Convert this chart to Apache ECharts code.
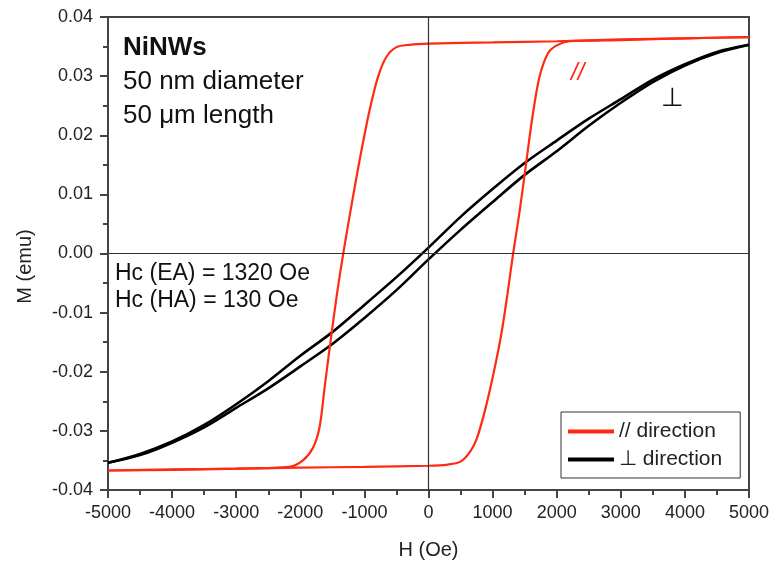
<!DOCTYPE html>
<html>
<head>
<meta charset="utf-8">
<script src="https://cdn.jsdelivr.net/npm/echarts@6/dist/echarts.min.js"></script>
<style>
  html, body { margin: 0; padding: 0; background: #fff; }
  #main { width: 776px; height: 572px; }
</style>
</head>
<body>
<div id="main"></div>
<script>
// tick values
var xTicks = [-5000, -4000, -3000, -2000, -1000, 0, 1000, 2000, 3000, 4000, 5000];
var yTicks = [-0.04, -0.03, -0.02, -0.01, 0.00, 0.01, 0.02, 0.03, 0.04];

// // direction (easy axis), field going down then up
var parDownH = [5000, 4000, 3000, 2000, 1000, 0, -300, -500, -660, -790, -920, -1050, -1180, -1330, -1430, -1530, -1620, -1700, -1800, -1960, -2170, -3000, -4000, -5000];
var parDownM = [0.0366, 0.0364, 0.0362, 0.0359, 0.0357, 0.0355, 0.0353, 0.0349, 0.0332, 0.0298, 0.0242, 0.0172, 0.0095, 0.0000, -0.0070, -0.0150, -0.0226, -0.0294, -0.0328, -0.0350, -0.0361, -0.0364, -0.0366, -0.0367];
var parUpH = [-5000, -4000, -3000, -2000, -1000, 0, 300, 500, 650, 750, 870, 1000, 1130, 1230, 1320, 1420, 1520, 1620, 1730, 1860, 2000, 2200, 3000, 4000, 5000];
var parUpM = [-0.0367, -0.0365, -0.0364, -0.0362, -0.0361, -0.0359, -0.0357, -0.0352, -0.0335, -0.0314, -0.0270, -0.0210, -0.0140, -0.0070, 0.0000, 0.0070, 0.0150, 0.0230, 0.0298, 0.0338, 0.0352, 0.0359, 0.0361, 0.0364, 0.0366];

// ⊥ direction (hard axis)
var perpDownH = [5000, 4500, 4000, 3500, 3000, 2500, 2000, 1500, 1000, 500, 0, -500, -1000, -1500, -2000, -2500, -3000, -3500, -4000, -4500, -5000];
var perpDownM = [0.0353, 0.0341, 0.0320, 0.0294, 0.0261, 0.0228, 0.0191, 0.0153, 0.0109, 0.0062, 0.0010, -0.0040, -0.0087, -0.0133, -0.0173, -0.0216, -0.0255, -0.0290, -0.0318, -0.0339, -0.0354];
var perpUpH = [-5000, -4500, -4000, -3500, -3000, -2500, -2000, -1500, -1000, -500, 0, 500, 1000, 1500, 2000, 2500, 3000, 3500, 4000, 4500, 5000];
var perpUpM = [-0.0354, -0.0341, -0.0320, -0.0294, -0.0261, -0.0228, -0.0191, -0.0153, -0.0109, -0.0062, -0.0010, 0.0040, 0.0087, 0.0133, 0.0173, 0.0216, 0.0255, 0.0290, 0.0318, 0.0339, 0.0353];

function pairs(h, m) {
    return h.map(function (v, i) { return [v, m[i]]; });
}

var RED = '#ff2a12';
var FONT = '"Liberation Sans", Arial, sans-serif';

var chart = echarts.init(document.getElementById('main'));

function branch(name, color, width, h, m, extra) {
    var s = {
        name: name,
        type: 'line',
        data: pairs(h, m),
        symbol: 'none',
        showSymbol: false,
        smooth: 0.3,
        lineStyle: { color: color, width: width },
        itemStyle: { color: color },
        z: color === RED ? 4 : 3,
        silent: true,
        animation: false
    };
    if (extra) Object.assign(s, extra);
    return s;
}

var option = {
    animation: false,
    backgroundColor: '#fff',
    textStyle: { fontFamily: FONT },
    grid: {
        left: 108, right: 27, top: 17, bottom: 82,
        show: true, borderColor: '#444', borderWidth: 2
    },
    legend: {
        data: [
            { name: '// direction', icon: 'rect' },
            { name: '⊥ direction', icon: 'rect' }
        ],
        orient: 'vertical',
        left: 561, top: 412,
        backgroundColor: '#fff',
        borderColor: '#333', borderWidth: 1, borderRadius: 0,
        padding: [9, 18, 8, 7],
        itemWidth: 46, itemHeight: 4, itemGap: 7,
        textStyle: { fontSize: 21, color: '#222', fontFamily: FONT, lineHeight: 21 }
    },
    xAxis: {
        type: 'value',
        min: xTicks[0], max: xTicks[xTicks.length - 1], interval: 1000,
        name: 'H (Oe)', nameLocation: 'middle', nameGap: 50,
        nameTextStyle: { fontSize: 20, color: '#222' },
        axisLine: { show: true, onZero: false, lineStyle: { color: '#444', width: 2 } },
        axisTick: { show: true, inside: false, length: 8, lineStyle: { color: '#444', width: 2 } },
        minorTick: { show: true, splitNumber: 2, length: 5, lineStyle: { color: '#444', width: 2 } },
        axisLabel: {
            fontSize: 18, color: '#222', margin: 14,
            formatter: function (v) { return String(v); }
        },
        splitLine: { show: false }
    },
    yAxis: {
        type: 'value',
        min: yTicks[0], max: yTicks[yTicks.length - 1], interval: 0.01,
        name: 'M (emu)', nameLocation: 'middle', nameGap: 73,
        nameTextStyle: { fontSize: 20, color: '#222', padding: [0, 0, 0, -26] },
        axisLine: { show: true, onZero: false, lineStyle: { color: '#444', width: 2 } },
        axisTick: { show: true, inside: false, length: 8, lineStyle: { color: '#444', width: 2 } },
        minorTick: { show: true, splitNumber: 2, length: 5, lineStyle: { color: '#444', width: 2 } },
        axisLabel: {
            fontSize: 18, color: '#222', margin: 15,
            formatter: function (v) { return v.toFixed(2); }
        },
        splitLine: { show: false }
    },
    graphic: [
        { type: 'text', left: 123, top: 35, style: { text: 'NiNWs', font: 'bold 26px ' + FONT, fill: '#111' } },
        { type: 'text', left: 123, top: 69, style: { text: '50 nm diameter', font: '26px ' + FONT, fill: '#111' } },
        { type: 'text', left: 123, top: 103, style: { text: '50 μm length', font: '26px ' + FONT, fill: '#111' } },
        { type: 'text', left: 115, top: 262, style: { text: 'Hc (EA) = 1320 Oe', font: '23px ' + FONT, fill: '#111' } },
        { type: 'text', left: 115, top: 289, style: { text: 'Hc (HA) = 130 Oe', font: '23px ' + FONT, fill: '#111' } },
        { type: 'text', left: 571, top: 61, style: { text: '//', font: 'italic 24px ' + FONT, fill: RED } },
        { type: 'text', left: 661, top: 86, style: { text: '⊥', font: '26px ' + FONT, fill: '#111' } }
    ],
    series: [
        branch('⊥ direction', '#000', 2.6, perpDownH, perpDownM, {
            markLine: {
                silent: true, symbol: 'none', animation: false,
                label: { show: false },
                lineStyle: { color: '#333', width: 1.2, type: 'solid' },
                data: [{ xAxis: 0 }, { yAxis: 0 }]
            }
        }),
        branch('⊥ direction', '#000', 2.6, perpUpH, perpUpM),
        branch('// direction', RED, 2.2, parDownH, parDownM),
        branch('// direction', RED, 2.2, parUpH, parUpM)
    ]
};

chart.setOption(option);
</script>
</body>
</html>
